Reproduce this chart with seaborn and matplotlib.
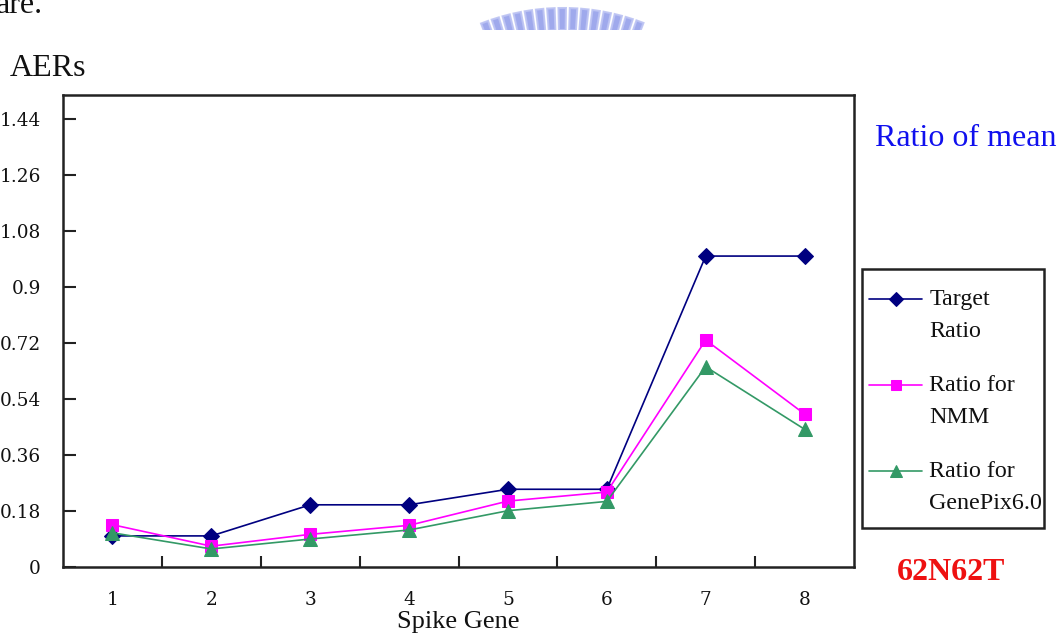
import numpy as np
import pandas as pd
import matplotlib
matplotlib.use("Agg")
import matplotlib.pyplot as plt
from matplotlib.ticker import FixedLocator
from matplotlib.patches import Polygon, Rectangle
from matplotlib.legend_handler import HandlerLine2D
import seaborn as sns

# Spike gene index and the three ratio series
spike_genes = [1, 2, 3, 4, 5, 6, 7, 8]
target_ratio = [0.10, 0.10, 0.20, 0.20, 0.25, 0.25, 1.00, 1.00]
ratio_nmm = [0.136, 0.067, 0.105, 0.134, 0.212, 0.241, 0.730, 0.492]
ratio_genepix = [0.110, 0.058, 0.090, 0.119, 0.181, 0.211, 0.644, 0.443]

series_names = ["Target\nRatio", "Ratio for\nNMM", "Ratio for\nGenePix6.0"]
y_ticks = [0, 0.18, 0.36, 0.54, 0.72, 0.9, 1.08, 1.26, 1.44]
y_tick_labels = ["0", "0.18", "0.36", "0.54", "0.72", "0.9", "1.08", "1.26", "1.44"]

df = pd.DataFrame({
    "gene": spike_genes * 3,
    "value": target_ratio + ratio_nmm + ratio_genepix,
    "series": [series_names[0]] * 8 + [series_names[1]] * 8 + [series_names[2]] * 8,
})

sns.set_theme(style="white")
plt.rcParams["font.family"] = ["Liberation Serif", "DejaVu Serif"]

W, H = 1058, 636
fig = plt.figure(figsize=(W / 100, H / 100), dpi=100)
fig.patch.set_facecolor("white")

# faint seal emblem peeking in at the top edge of the page
deco = fig.add_axes([0, 1 - 30 / H, 1, 30 / H])
deco.set_xlim(0, W)
deco.set_ylim(30, 0)
deco.axis("off")
cx, cy, r_in, r_out = 563.0, 232.0, 202.0, 224.0
for ang in np.deg2rad(np.arange(-20.5, 21, 2.9)):
    half = np.deg2rad(0.95)
    pts = []
    for r, a in [(r_in, ang - half), (r_out, ang - half), (r_out, ang + half), (r_in, ang + half)]:
        pts.append((cx + r * np.sin(a), cy - r * np.cos(a)))
    deco.add_patch(Polygon(pts, closed=True, facecolor="#95a0ea", edgecolor="#bcc3f3",
                           linewidth=1.5, alpha=0.9))

ax = fig.add_axes([63 / W, 1 - 567 / H, (854 - 63) / W, (567 - 95) / H])

palette = {series_names[0]: "#000080", series_names[1]: "#FF00FF", series_names[2]: "#339966"}
markers = {series_names[0]: "D", series_names[1]: "s", series_names[2]: "^"}
sizes = {series_names[0]: 8.5, series_names[1]: 9, series_names[2]: 10}

for name in series_names:
    sub = df[df["series"] == name]
    sns.lineplot(data=sub, x="gene", y="value", ax=ax, color=palette[name],
                 marker=markers[name], markersize=sizes[name],
                 markeredgecolor=palette[name], linewidth=1.2, label=name,
                 legend=False)

ax.set_xlim(0.5, 8.5)
ax.set_ylim(0, 1.518)

tick_font = {"family": "DejaVu Serif", "size": 13.3}
ax.xaxis.set_major_locator(FixedLocator(spike_genes))
ax.set_xticklabels([str(g) for g in spike_genes], fontdict=tick_font)
ax.xaxis.set_minor_locator(FixedLocator([g + 0.5 for g in spike_genes[:-1]]))
ax.tick_params(axis="x", which="major", length=0, pad=17, colors="#111111")
ax.tick_params(axis="x", which="minor", direction="in", length=8, width=1.5,
               color="#222222", bottom=True)

ax.set_yticks(y_ticks)
ax.set_yticklabels(y_tick_labels, fontdict=tick_font)
ax.tick_params(axis="y", which="major", direction="in", length=9, width=1.5,
               color="#222222", pad=16, labelcolor="#111111", left=True)

for s in ax.spines.values():
    s.set_visible(True)
    s.set_color("#222222")
    s.set_linewidth(1.8)

ax.set_xlabel("Spike Gene", fontsize=19, labelpad=2, color="#111111")
ax.set_ylabel("")
ax.set_facecolor("white")
ax.grid(False)


class FirstLineHandler(HandlerLine2D):
    """Line handle raised to sit beside the first line of a two-line label."""

    def __init__(self, shift, **kw):
        super().__init__(**kw)
        self.shift = shift

    def create_artists(self, legend, orig_handle, xdescent, ydescent,
                       width, height, fontsize, trans):
        arts = super().create_artists(legend, orig_handle, xdescent, ydescent,
                                      width, height, fontsize, trans)
        for a in arts:
            a.set_ydata(np.asarray(a.get_ydata(), dtype=float) + self.shift)
        return arts


# legend entries, with a fixed-size box drawn around them
handles, labels = ax.get_legend_handles_labels()
leg = fig.legend(handles, labels, loc="upper left",
                 bbox_to_anchor=(862 / W, 1 - 282 / H),
                 frameon=False, fontsize=17.3, markerscale=0.85,
                 handlelength=2.2, handletextpad=0.3, labelspacing=1.4,
                 borderpad=0.3, borderaxespad=0,
                 handler_map={h: FirstLineHandler(11.5) for h in handles})
for t in leg.get_texts():
    t.set_linespacing(1.65)
    t.set_color("#111111")
fig.patches.append(Rectangle((862 / W, 1 - 528 / H), (1044 - 862) / W, (528 - 269) / H,
                             transform=fig.transFigure, fill=False,
                             edgecolor="#222222", linewidth=1.8, zorder=5))

fig.text(10 / W, 1 - 68 / H, "AERs", fontsize=23, va="center", ha="left", color="#111111")
fig.text(875 / W, 1 - 139 / H, "Ratio of mean", fontsize=23, va="center", ha="left", color="#1010ee")
fig.text(951 / W, 1 - 572 / H, "62N62T", fontsize=23, va="center", ha="center",
         color="#ee1111", fontweight="bold")
fig.text(-4 / W, 1 - 13 / H, "are.", fontsize=23, va="baseline", ha="left", color="#111111")

fig.savefig("out.png", dpi=100, facecolor="white")
